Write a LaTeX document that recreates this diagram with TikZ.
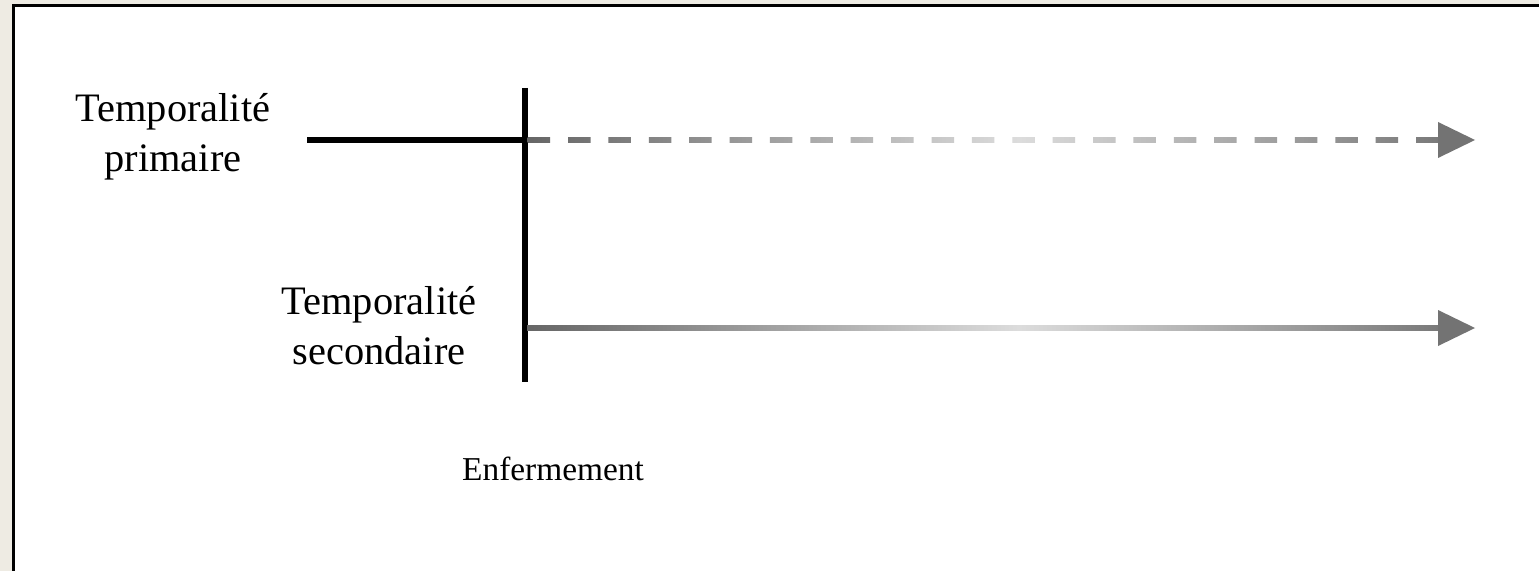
\documentclass[tikz,border=0pt]{standalone}
\usepackage{fontspec}
\setmainfont{Liberation Serif}
\usetikzlibrary{calc}

\definecolor{fondbeige}{HTML}{EEEBE3}
\definecolor{gradgauche}{HTML}{666666}
\definecolor{gradmilieu}{HTML}{DCDCDC}
\definecolor{graddroite}{HTML}{7A7A7A}
\definecolor{flechegris}{HTML}{737373}

% degrade des deux temporalites (partie utile entre 25bp et 75bp, clair vers 54%)
\pgfdeclarehorizontalshading{degradetemps}{100bp}{color(0bp)=(gradgauche); color(25bp)=(gradgauche); color(52bp)=(gradmilieu); color(75bp)=(graddroite); color(100bp)=(graddroite)}

\begin{document}
\begin{tikzpicture}[x=0.02cm, y=-0.02cm]
    % Styles
    \tikzset{etiquette/.style={align=center, font=\fontsize{23}{28.5}\selectfont}}
    \tikzset{traitnoir/.style={draw=black, line width=3.4pt}}
    \tikzset{pointe/.style={fill=flechegris}}

    % Cadre
    \clip (0,0) rectangle (1539,571);
    \fill[fondbeige] (0,0) rectangle (1539,571);
    \filldraw[fill=white, draw=black, line width=1.4pt] (13.3,5.3) rectangle (1600,620);

    % --- Points de repere ---
    \coordinate (debut1) at (307,140);
    \coordinate (croix1) at (525,140);
    \coordinate (haut) at (525,88);
    \coordinate (bas) at (525,382);
    \coordinate (croix2) at (525,328);
    \coordinate (pointe1) at (1475,140);
    \coordinate (pointe2) at (1475,328);

    % --- Etiquettes ---
    \node[etiquette] (primaire) at (173,137) {Temporalité\\primaire};
    \node[etiquette] (secondaire) at (379,326) {Temporalité\\secondaire};
    \node[etiquette, font=\fontsize{19}{23}\selectfont] (enfermement) at (553,469) {Enfermement};

    % --- Traits noirs ---
    \draw[traitnoir] (debut1) -- (croix1);
    \draw[traitnoir] (haut) -- (bas);

    % Temporalite primaire (tirets degrades)
    \begin{scope}
        \clip foreach \k in {0,...,22} {($(croix1)+(2.7+40.38*\k,-2.8)$) rectangle ++(22.5,5.6)};
        \shade[shading=degradetemps] ($(croix1)+(2,-3)$) rectangle ($(pointe1)+(-37,3)$);
    \end{scope}
    \fill[pointe] (pointe1) -- ++(-37,-18) -- ++(0,36) -- cycle;

    % Temporalite secondaire (trait plein degrade)
    \shade[shading=degradetemps] ($(croix2)+(2,-2.7)$) rectangle ($(pointe2)+(-37,2.7)$);
    \fill[pointe] (pointe2) -- ++(-37,-18) -- ++(0,36) -- cycle;
\end{tikzpicture}
\end{document}
